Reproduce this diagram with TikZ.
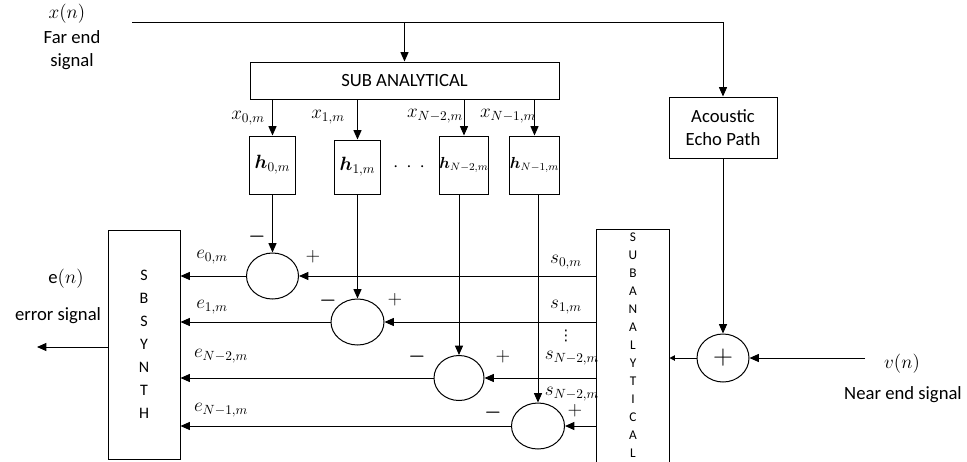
\documentclass[tikz,border=0pt]{standalone}
\usepackage{amsmath}
\usepackage{fontspec}
\setmainfont{Carlito}
\newfontfamily\symfont{DejaVu Sans}
\usetikzlibrary{arrows.meta,shapes.geometric}

\begin{document}
\begin{tikzpicture}[
        x=0.75pt, y=-0.75pt,
        line width=0.75pt,
        font=\fontsize{14}{17}\selectfont,
        blockbox/.style 2 args={
            draw,
            inner sep=0pt,
            align=center,
            minimum width=#1*0.75pt,
            minimum height=#2*0.75pt
        },
        sumnode/.style 2 args={
            draw,
            ellipse,
            inner sep=0pt,
            minimum width=#1*0.75pt,
            minimum height=#2*0.75pt
        },
        pmsign/.style={inner sep=0pt, font=\fontsize{15}{17}\selectfont},
        lbl/.style={inner sep=0pt},
        arrow/.style={-{Triangle[length=7pt,width=6pt]}},
        smallarrow/.style={-{Triangle[length=4pt,width=4pt]}}
    ]
        \useasboundingbox (0,0) rectangle (967,461);

        % inputs and top blocks
        \node[lbl] (xn) at (67,14) {$x(n)$};
        \node[lbl, align=center] (farend) at (72,50) {Far end\\signal};
        \coordinate (xin) at (132,22);
        \node[blockbox={309}{37}] (subana) at (404.5,80.5) {SUB ANALYTICAL};
        \node[blockbox={108}{61}] (echo) at (723,127.5) {Acoustic\\Echo Path};

        % subband filters
        \node[blockbox={46}{58}] (h0) at (272.5,165) {$\boldsymbol{h}_{0,m}$};
        \node[blockbox={46}{54}] (h1) at (357.5,167) {$\boldsymbol{h}_{1,m}$};
        \node[blockbox={46}{58}, font=\fontsize{12}{14}\selectfont] (hN2) at (464,165) {$\boldsymbol{h}_{N-2,m}$};
        \node[blockbox={47}{58}, font=\fontsize{12}{14}\selectfont] (hN1) at (534.5,165) {$\boldsymbol{h}_{N-1,m}$};
        \node[lbl] (dots) at (409,167) {$\mathord{\cdot}\hspace{6pt}\mathord{\cdot}\hspace{6pt}\mathord{\cdot}$};

        % subtractors
        \node[sumnode={52}{46}] (c0) at (272.5,276) {};
        \node[sumnode={53}{46}] (c1) at (357.5,322) {};
        \node[sumnode={50}{45}] (c2) at (459,378) {};
        \node[sumnode={53}{46}] (c3) at (538,426) {};
        \node[sumnode={52}{48}, font=\fontsize{20}{20}\selectfont] (cp) at (723,358) {$+$};

        % synthesis and analysis banks
        \node[blockbox={72}{229}, font=\fontsize{12}{17.25}\selectfont] (synth) at (144,344.5) {S\\B\\S\\Y\\N\\T\\H};
        \node[blockbox={72}{231}, draw=none, font=\fontsize{10}{13.5}\selectfont] (anal) at (633,345.5) {S\\U\\B\\A\\N\\A\\L\\Y\\T\\I\\C\\A\\L};
        \draw (anal.south west) |- (anal.north east) -- (anal.south east);

        % signs
        \node[pmsign] (m0) at (257,237) {$\boldsymbol{-}$};
        \node[pmsign] (p0) at (313,257) {$+$};
        \node[pmsign] (m1) at (328,301) {$\boldsymbol{-}$};
        \node[pmsign] (p1) at (395,300) {$+$};
        \node[pmsign] (m2) at (417,357) {$\boldsymbol{-}$};
        \node[pmsign] (p2) at (503,357) {$+$};
        \node[pmsign] (m3) at (493,413) {$\boldsymbol{-}$};
        \node[pmsign] (p3) at (575,411) {$+$};

        % labels
        \node[lbl] (lx0) at (248,118) {$x_{0,m}$};
        \node[lbl] (lx1) at (328,117) {$x_{1,m}$};
        \node[lbl] (lxN2) at (435,116) {$x_{N-2,m}$};
        \node[lbl] (lxN1) at (508,116) {$x_{N-1,m}$};
        \node[lbl] (le0) at (212,257) {$e_{0,m}$};
        \node[lbl] (le1) at (212,307) {$e_{1,m}$};
        \node[lbl] (leN2) at (221,356) {$e_{N-2,m}$};
        \node[lbl] (leN1) at (221,410) {$e_{N-1,m}$};
        \node[lbl] (ls0) at (566,262) {$s_{0,m}$};
        \node[lbl] (ls1) at (566,307) {$s_{1,m}$};
        \node[lbl, font=\symfont\fontsize{11}{12}\selectfont] (sdots) at (566,336) {⋮};
        \node[lbl] (lsN2) at (572,358) {$s_{N-2,m}$};
        \node[lbl] (lsN2b) at (572,394) {$s_{N-2,m}$};
        \node[lbl] (en) at (66,279) {$\mathrm{e}(n)$};
        \node[lbl] (errsig) at (58,316) {error signal};
        \node[lbl] (vn) at (902,364) {$v(n)$};
        \node[lbl] (nearend) at (903,395) {Near end signal};
        \coordinate (vin) at (865,358);
        \coordinate (eout) at (37,347);

        % connectors
        \draw[arrow] (xin) -| (echo.north);
        \draw[arrow] (subana.north |- xin) -- (subana.north);
        \draw[arrow] (h0.north |- subana.south) -- (h0.north);
        \draw[arrow] (h1.north |- subana.south) -- (h1.north);
        \draw[arrow] (hN2.north |- subana.south) -- (hN2.north);
        \draw[arrow] (hN1.north |- subana.south) -- (hN1.north);
        \draw[arrow] (h0.south) -- (c0.north);
        \draw[arrow] (h1.south) -- (c1.north);
        \draw[arrow] (c2.north |- hN2.south) -- (c2.north);
        \draw[arrow] (c3.north |- hN1.south) -- (c3.north);
        \draw[arrow] (c0.west) -- (c0.west -| synth.east);
        \draw[arrow] (c1.west) -- (c1.west -| synth.east);
        \draw[arrow] (c2.west) -- (c2.west -| synth.east);
        \draw[arrow] (c3.west) -- (c3.west -| synth.east);
        \draw[arrow] (c0.east -| anal.west) -- (c0.east);
        \draw[arrow] (c1.east -| anal.west) -- (c1.east);
        \draw[arrow] (c2.east -| anal.west) -- (c2.east);
        \draw[arrow] (c3.east -| anal.west) -- (c3.east);
        \draw[arrow] (echo.south) -- (cp.north);
        \draw[smallarrow] (cp.west) -- (cp.west -| anal.east);
        \draw[arrow] (vin) -- (cp.east);
        \draw[arrow] (synth.west |- eout) -- (eout);
    \end{tikzpicture}
\end{document}
